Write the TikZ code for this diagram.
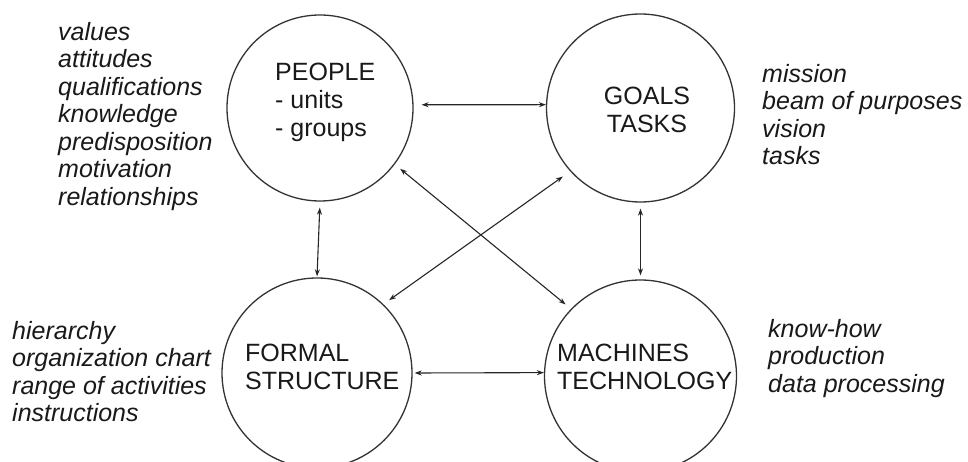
\documentclass[tikz,border=0pt]{standalone}
\usepackage{fontspec}
\setmainfont{Liberation Sans}
\usetikzlibrary{arrows.meta}
\begin{document}
\begin{tikzpicture}[x=1pt,y=-1pt,
  circ/.style={circle,draw=black!80,line width=1.3pt,inner sep=0pt},
  lbl/.style={font=\fontsize{25}{28}\selectfont,inner sep=0pt,text=black!90},
  side/.style={font=\fontsize{25}{27.5}\selectfont\itshape,align=left,anchor=north west,inner sep=0pt,text=black!90},
  link/.style={{Stealth[length=7pt,width=5pt]}-{Stealth[length=7pt,width=5pt]},line width=1.1pt,draw=black!85}]
\useasboundingbox (0,0) rectangle (968,462);
\fill[white] (0,0) rectangle (968,462);
% circles
\node[circ,minimum size=186pt] (people) at (320,108) {};
\node[circ,minimum size=188pt] (goals) at (640.5,108) {};
\node[circ,minimum size=190pt] (formal) at (317,373) {};
\node[circ,minimum size=192pt] (machines) at (640.5,376) {};
% circle texts
\node[lbl,align=left,anchor=north west] (peopletxt) at (275,63) {PEOPLE\\- units\\- groups};
\node[lbl,align=center,anchor=north] (goalstxt) at (647,87) {GOALS\\TASKS};
\node[lbl,align=left,anchor=north west] (formaltxt) at (245,344) {FORMAL\\STRUCTURE};
\node[lbl,align=left,anchor=north west] (machinestxt) at (557,344) {MACHINES\\TECHNOLOGY};
% side texts
\node[side] (peopleside) at (58,22) {values\\attitudes\\qualifications\\knowledge\\predisposition\\motivation\\relationships};
\node[side] (goalsside) at (762,64) {mission\\beam of purposes\\vision\\tasks};
\node[side] (formalside) at (12,321) {hierarchy\\organization chart\\range of activities\\instructions};
\node[side] (machinesside) at (768,319) {know-how\\production\\data processing};
% connectors
\draw[link,shorten <=8pt] (people.2) -- (goals.178);
\draw[link,shorten <=2pt] (formal.east) -- (machines.178);
\draw[link,shorten <=6pt,shorten >=1pt] (people.south) -- (formal.north);
\draw[link,shorten <=6pt,shorten >=4pt] (goals.south) -- (machines.north);
\draw[link,shorten <=9pt,shorten >=7pt] (goals.222) -- (formal.46);
\draw[link,shorten <=7pt,shorten >=7pt] (people.-37) -- (machines.136);
\end{tikzpicture}
\end{document}
